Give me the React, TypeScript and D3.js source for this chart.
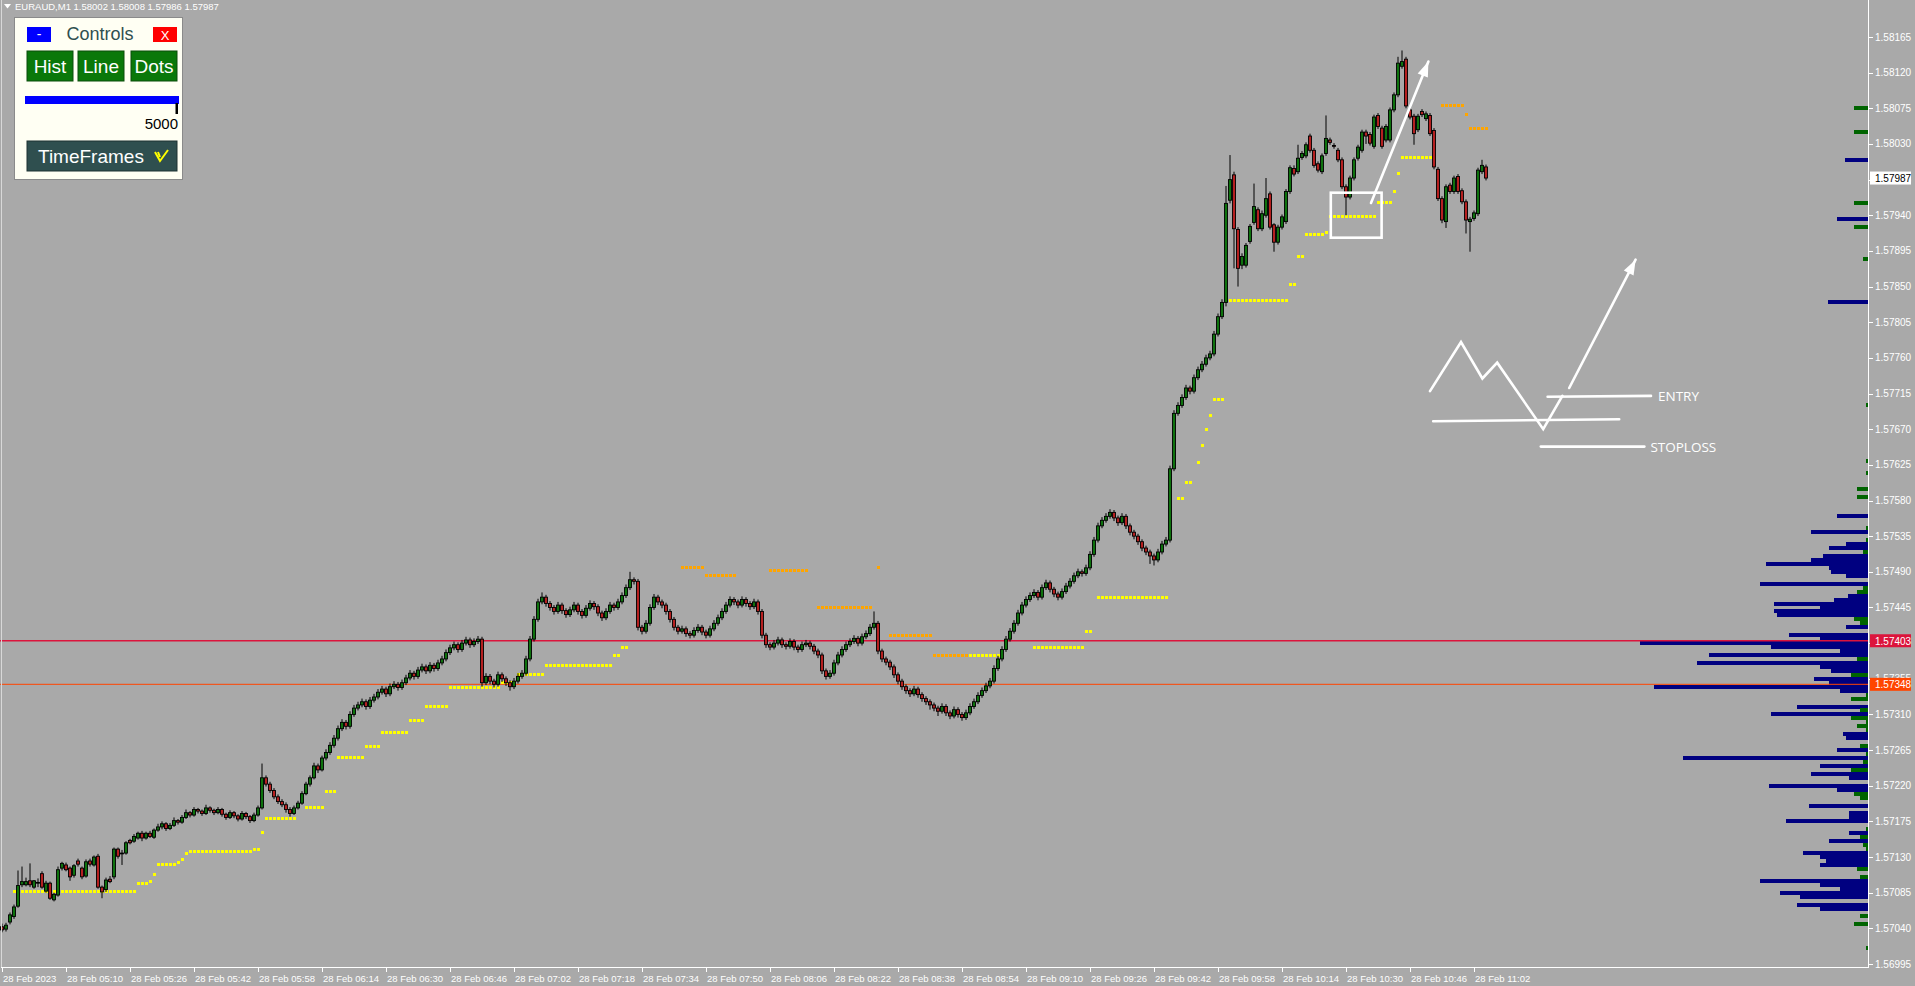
import React from "react";
import * as d3 from "d3";

const W = 1915;
const H = 986;
const AXIS_X = 1868.5;
const AXIS_Y = 967.5;
const BASE = 1.57;
const PT = 0.00001;

// prices in points above 1.57000
const opens = [
  42,39,48,55,68,95,95,100,92,98,
  109,87,97,76,82,116,120,116,107,125,
  116,106,125,120,131,92,89,102,105,140,
  135,135,151,150,154,160,154,160,155,164,
  168,172,166,170,176,174,180,186,183,190,
  188,185,192,189,186,190,184,180,186,182,
  178,185,181,176,183,192,230,222,214,206,
  200,196,190,185,192,198,210,222,230,245,
  240,255,262,271,280,292,300,295,310,318,
  322,326,320,328,332,338,342,336,345,348,
  344,350,356,362,358,366,370,365,372,368,
  375,380,388,394,398,392,400,404,398,402,
  405,350,358,352,348,360,355,350,345,352,
  358,362,380,405,430,452,458,450,445,440,
  448,441,436,442,448,440,435,444,450,446,
  438,432,440,448,445,452,460,470,480,478,
  420,415,425,445,458,452,448,440,430,420,
  415,418,412,410,416,420,414,410,418,425,
  432,440,448,455,452,448,455,450,446,452,
  440,410,398,395,400,404,398,396,402,395,
  392,398,400,396,390,385,365,358,362,375,
  385,392,398,402,406,400,408,412,420,425,
  390,380,376,370,360,352,345,340,336,342,
  335,330,326,322,318,314,320,312,308,316,
  310,306,312,320,326,334,340,346,352,368,
  380,392,405,415,425,438,448,455,460,464,
  458,470,476,468,462,458,465,472,478,485,
  490,488,495,512,530,548,555,560,565,558,
  552,560,548,540,535,528,520,515,510,505,
  515,525,530,620,690,700,710,722,718,735,
  745,752,760,765,790,812,830,959,991,922,
  877,877,907,931,947,923,940,967,928,906,
  925,932,970,999,995,1013,1015,1040,1022,1005,
  995,1018,1035,1028,1022,1010,976,963,987,1012,
  1022,1045,1042,1027,1066,1050,1035,1035,1073,1092,
  1128,1137,1073,1065,1048,1071,1062,1066,1047,998,
  961,932,978,970,989,971,957,932,936,942,
  995,1001
];
const highs = [
  46,47,60,70,113,118,104,122,101,103,
  112,100,99,85,118,124,123,118,121,128,
  118,127,128,132,134,94,104,106,142,142,
  139,150,153,159,162,163,162,163,166,172,
  175,174,173,180,178,183,190,188,193,192,
  190,196,194,191,193,192,186,189,188,184,
  188,187,183,186,195,248,233,225,217,209,
  203,199,193,195,201,213,225,233,249,248,
  258,266,275,284,296,304,303,314,322,326,
  330,329,332,336,342,346,345,349,352,351,
  354,360,366,365,370,374,373,376,375,379,
  384,392,398,402,401,404,408,407,406,409,
  408,362,361,355,364,363,358,353,356,362,
  366,384,409,434,456,464,461,453,448,452,
  451,444,446,452,451,443,448,454,453,449,
  441,444,452,451,456,464,474,490,483,481,
  423,429,449,462,461,455,451,443,433,423,
  422,421,415,420,424,423,417,422,429,436,
  444,452,459,458,455,459,458,453,456,455,
  443,413,401,404,408,407,401,406,405,398,
  402,404,403,399,393,388,368,366,379,389,
  396,402,406,410,409,412,416,424,440,428,
  393,383,379,373,363,355,348,343,346,345,
  338,333,329,325,321,324,323,315,320,319,
  313,316,324,330,338,344,350,356,372,384,
  396,409,419,429,442,452,459,464,468,467,
  474,480,479,471,465,469,476,482,489,494,
  493,499,516,534,552,559,564,569,568,561,
  564,563,551,543,538,531,523,518,513,519,
  529,534,624,694,704,714,726,725,739,749,
  756,764,769,794,816,834,977,1016,995,925,
  892,905,929,980,950,946,987,970,930,928,
  941,973,1003,1003,1029,1021,1032,1043,1025,1008,
  1018,1066,1038,1031,1025,1013,979,990,1013,1029,
  1048,1048,1045,1067,1069,1053,1055,1076,1095,1140,
  1148,1140,1076,1068,1068,1074,1071,1069,1050,1001,
  964,979,981,990,992,974,960,938,946,1000,
  1010,1004
];
const lows = [
  35,36,45,52,66,92,93,92,90,92,
  90,85,76,74,80,113,112,100,104,118,
  102,104,118,118,90,78,86,97,102,128,
  120,133,146,148,152,150,152,154,153,162,
  165,163,164,168,171,172,178,180,181,185,
  182,183,186,183,184,181,177,178,179,175,
  176,178,173,174,181,190,219,211,203,197,
  193,186,181,183,190,196,208,219,228,236,
  238,252,259,268,277,289,291,292,307,315,
  319,316,317,325,329,335,332,333,342,340,
  341,347,353,354,355,363,361,362,364,365,
  372,377,385,391,388,389,397,394,395,399,
  345,347,348,344,345,351,346,340,342,349,
  355,359,377,402,427,449,446,441,436,437,
  437,432,433,439,436,431,432,441,442,434,
  428,429,437,441,442,449,457,467,474,416,
  411,412,422,442,448,444,436,426,416,411,
  412,408,406,407,413,410,406,407,415,422,
  429,437,445,448,444,445,446,442,443,436,
  406,394,391,392,397,394,392,393,391,388,
  389,395,392,386,381,361,354,355,359,372,
  382,389,395,399,396,397,405,409,417,386,
  376,372,366,356,348,341,336,332,333,331,
  326,322,316,314,308,311,308,304,305,306,
  302,303,309,317,323,331,337,343,349,365,
  377,389,402,412,422,435,445,452,457,454,
  455,467,464,458,454,455,462,469,475,482,
  484,485,492,509,527,545,552,557,554,548,
  549,544,536,531,524,516,511,500,498,502,
  512,522,527,617,687,697,707,714,715,732,
  742,749,757,762,787,809,825,955,873,850,
  872,874,904,928,920,920,937,922,894,903,
  922,929,967,989,992,1010,1012,1019,1000,994,
  992,1015,1029,1024,1007,973,940,960,984,1009,
  1019,1030,1028,1024,1049,1024,1032,1032,1070,1089,
  1125,1075,1061,1029,1045,1064,1059,1040,998,958,
  930,924,967,967,967,954,917,894,933,939,
  992,984
];
const closes = [
  38,44,57,67,94,99,99,95,100,98,
  92,97,78,83,114,122,114,105,119,121,
  105,124,121,130,92,86,101,99,140,131,
  135,148,148,156,160,154,160,156,164,168,
  172,166,170,176,174,180,186,183,190,188,
  185,192,189,186,190,184,180,186,182,178,
  185,181,176,183,192,230,222,214,206,200,
  196,190,185,192,198,210,222,230,245,240,
  255,262,271,280,292,300,295,310,318,322,
  326,320,328,332,338,342,336,345,348,344,
  350,356,362,358,366,370,365,372,368,375,
  380,388,394,398,392,400,404,398,402,405,
  350,358,352,348,360,355,350,345,352,358,
  362,380,405,430,452,458,450,445,440,448,
  441,436,442,448,440,435,444,450,446,438,
  432,440,448,445,452,460,470,480,478,420,
  415,425,445,458,452,448,440,430,420,415,
  418,412,410,416,420,414,410,418,425,432,
  440,448,455,452,448,455,450,446,452,440,
  410,398,395,400,404,398,396,402,395,392,
  398,400,396,390,385,365,358,362,375,385,
  392,398,402,406,400,408,412,420,425,390,
  380,376,370,360,352,345,340,336,342,335,
  330,326,322,318,314,320,312,308,316,310,
  306,312,320,326,334,340,346,352,368,380,
  392,405,415,425,438,448,455,460,464,458,
  470,476,468,462,458,465,472,478,485,490,
  488,495,512,530,548,555,560,565,558,552,
  560,548,540,535,528,520,515,510,505,515,
  525,530,620,690,700,710,722,718,735,745,
  752,760,765,790,812,830,955,985,923,873,
  888,902,926,951,923,942,961,925,906,925,
  938,970,1000,992,1012,1018,1029,1022,1003,997,
  1015,1037,1032,1027,1010,976,963,987,1010,1026,
  1045,1040,1031,1064,1052,1027,1052,1073,1092,1132,
  1134,1078,1064,1043,1065,1067,1068,1043,1001,961,
  934,976,970,987,970,957,934,935,943,997,
  1003,987
];

// stepped indicator runs: [firstBar, lastBar, level]
const supportRuns = [
  [3,33,87],[34,36,97],[37,37,99],[38,38,108],[39,43,121],[44,44,123],[45,45,127],[46,46,135],
  [47,62,137],[63,64,140],[65,65,161],[66,73,179],[76,80,192],[81,83,213],[84,90,256],[91,94,270],
  [95,101,287],[102,105,302],[106,111,320],[112,124,344],[125,128,350],[129,135,360],[136,152,372],
  [153,154,385],[155,156,395],[242,250,384],[258,270,395],[271,272,415],[274,291,458],[292,292,533],
  [294,295,582],[296,297,603],[299,299,628],[300,300,650],[301,301,670],[302,302,687],[303,305,708],
  [306,321,832],[322,323,853],[324,325,888],[326,330,916],[331,331,918],[332,343,939],[344,347,956],
  [348,348,970],[349,349,993],[350,358,1013]
];
const resistanceRuns = [
  [170,175,495],[176,183,485],[192,201,492],[204,217,445],[219,219,496],[222,232,410],[233,241,384],
  [360,365,1078],[366,366,1067],[367,371,1049]
];

// volume profile (price level in points, volume, kind n=navy g=green)
const profileLevels = [
  1075,1045,1010,955,935,925,885,830,700,630,615,595,585,560,545,540,530,525,520,515,
  510,505,500,495,490,485,475,470,465,460,455,450,445,440,435,430,425,420,410,405,
  400,395,390,385,380,375,370,365,360,355,350,345,340,335,330,320,315,310,305,300,
  295,290,285,280,270,265,260,255,250,245,240,235,230,220,215,210,205,195,185,180,
  175,165,160,155,150,145,140,135,130,125,120,115,105,100,95,90,85,80,70,65,55,45,15
];
const profileVolumes = [
  14,14,23,14,31,14,5,40,2,2,2,11,11,31,2,57,2,22,39,5,
  45,57,102,39,37,22,108,5,11,20,34,94,48,94,91,14,8,22,79,48,
  228,97,28,159,11,171,48,37,17,54,39,214,28,2,17,71,8,97,17,2,
  11,2,25,22,8,31,2,185,5,48,17,57,19,99,31,14,8,59,19,19,
  82,2,19,8,39,5,2,65,48,42,48,11,8,108,48,28,88,68,71,48,8,14,2
];
const profileKinds = [
  "ggngnggngg", "gggngngnng", "nnnnnnnggn", "nnnnnggnnn", "nnnngnnngn",
  "nnnggngngg", "ggnngngngn", "gnnnnggnnn", "ngngnggnnn", "nggnnnnnnn", "ggg"
].join("");

const xTickLabels = [
  "28 Feb 2023","28 Feb 05:10","28 Feb 05:26","28 Feb 05:42","28 Feb 05:58","28 Feb 06:14",
  "28 Feb 06:30","28 Feb 06:46","28 Feb 07:02","28 Feb 07:18","28 Feb 07:34","28 Feb 07:50",
  "28 Feb 08:06","28 Feb 08:22","28 Feb 08:38","28 Feb 08:54","28 Feb 09:10","28 Feb 09:26",
  "28 Feb 09:42","28 Feb 09:58","28 Feb 10:14","28 Feb 10:30","28 Feb 10:46","28 Feb 11:02"
];
const xTickEvery = 16;
const yTickFirst = -5;
const yTickStep = 45;
const yTickCount = 27;

const redLevel = 403;
const orangeLevel = 348;
const lastLevel = 987;

// hand drawn annotations in (bar, points)
const zigzag = [[357,718],[364.75,780],[370.1,734],[373.8,754],[385.3,670],[390.1,712]];
const arrowUpSmall = [[391.8,722],[408.4,884]];
const arrowUpMain = [[342.25,955.5],[356.6,1134]];
const entryLine = [[386.4,711],[412.25,712]];
const baseLine = [[357.8,680],[404.3,682.5]];
const stopLine = [[384.7,648],[410.6,648]];
const boxBars = [332.2, 344.9];
const boxLevels = [968.5, 911.7];

const BULL = "#0E720E";
const BEAR = "#B52020";
const NAVY = "#000080";
const DGREEN = "#006400";

function arrowHead(x1: number, y1: number, x2: number, y2: number) {
  const a = Math.atan2(y2 - y1, x2 - x1);
  const L = 15, w = 5.5;
  const bx = x2 - L * Math.cos(a), by = y2 - L * Math.sin(a);
  const px = -Math.sin(a) * w, py = Math.cos(a) * w;
  return `M${x2},${y2}L${bx + px},${by + py}L${bx - px},${by - py}Z`;
}

export default function App() {
  const x = d3.scaleLinear().domain([0, 466]).range([2, 1866]);
  const y = d3.scaleLinear().domain([1165, -5]).range([37, 964]);
  const vol = d3.scaleLinear().domain([0, 228]).range([0, 228]);
  const fmt = (v: number) => (BASE + v * PT).toFixed(5);
  const line = d3.line<number[]>().x((d) => x(d[0])).y((d) => y(d[1]));

  const yTicks = d3.range(yTickCount).map((k) => yTickFirst + k * yTickStep);

  const dots = (runs: number[][], color: string, key: string) =>
    runs.flatMap((r) =>
      d3.range(r[0], r[1] + 1).map((i) => (
        <rect key={`${key}${i}`} x={x(i) - 1.5} y={y(r[2]) - 1.5} width={3} height={3} fill={color} />
      ))
    );

  const font = "'Liberation Sans', Arial, sans-serif";

  const priceLabel = (v: number, bg: string, fg: string) => (
    <g>
      <rect x={1870} y={y(v) - 6.5} width={41} height={13} fill={bg} />
      <text x={1875} y={y(v) + 4} fontSize={10} fill={fg} fontFamily={font}>{fmt(v)}</text>
    </g>
  );

  return (
    <svg width={W} height={H} style={{ position: "absolute", left: 0, top: 0, display: "block" }}>
      <rect x={0} y={0} width={W} height={H} fill="#A9A9A9" />

      {/* volume profile */}
      <g shapeRendering="crispEdges">
        {profileLevels.map((lv, k) => (
          <rect key={`p${k}`} x={AXIS_X - 1 - vol(profileVolumes[k])} y={y(lv) - 2} width={vol(profileVolumes[k])}
            height={4} fill={profileKinds[k] === "g" ? DGREEN : NAVY} />
        ))}
      </g>

      {/* horizontal levels */}
      <line x1={0} x2={AXIS_X} y1={y(redLevel)} y2={y(redLevel)} stroke="#DC143C" strokeWidth={1.6} />
      <line x1={0} x2={AXIS_X} y1={y(orangeLevel)} y2={y(orangeLevel)} stroke="#FF4500" strokeWidth={1} />

      {/* indicator dots */}
      <g shapeRendering="crispEdges">
        {dots(supportRuns, "#FFFF00", "s")}
        {dots(resistanceRuns, "#FFA500", "r")}
      </g>

      {/* candles */}
      <g>
        {closes.map((c, i) => {
          const o = opens[i];
          const cx = x(i);
          const top = y(Math.max(o, c));
          const bot = y(Math.min(o, c));
          return (
            <g key={`c${i}`}>
              <line x1={cx} x2={cx} y1={y(highs[i])} y2={y(lows[i])} stroke="#000" strokeWidth={1} />
              <rect x={cx - 1.5} y={top} width={3} height={Math.max(0.8, bot - top)}
                fill={c >= o ? BULL : BEAR} stroke="#000" strokeWidth={0.9} />
            </g>
          );
        })}
      </g>

      {/* annotations */}
      <g stroke="#FFFFFF" strokeWidth={2.6} fill="none" strokeLinecap="round" strokeLinejoin="miter">
        <rect x={x(boxBars[0])} y={y(boxLevels[0])} width={x(boxBars[1]) - x(boxBars[0])}
          height={y(boxLevels[1]) - y(boxLevels[0])} strokeLinecap="butt" />
        <path d={line(arrowUpMain as number[][]) || ""} />
        <path d={line(zigzag as number[][]) || ""} />
        <path d={line(arrowUpSmall as number[][]) || ""} />
        <path d={line(entryLine as number[][]) || ""} />
        <path d={line(baseLine as number[][]) || ""} />
        <path d={line(stopLine as number[][]) || ""} />
      </g>
      <path fill="#FFFFFF" d={arrowHead(x(arrowUpMain[0][0]), y(arrowUpMain[0][1]), x(arrowUpMain[1][0]), y(arrowUpMain[1][1]))} />
      <path fill="#FFFFFF" d={arrowHead(x(arrowUpSmall[0][0]), y(arrowUpSmall[0][1]), x(arrowUpSmall[1][0]), y(arrowUpSmall[1][1]))} />
      <text x={x(entryLine[1][0]) + 7} y={y(entryLine[1][1]) + 5} fill="#FFFFFF" fontSize={13.5}
        fontFamily="'Open Sans', sans-serif">ENTRY</text>
      <text x={x(stopLine[1][0]) + 6} y={y(stopLine[1][1]) + 5} fill="#FFFFFF" fontSize={13.5}
        fontFamily="'Open Sans', sans-serif">STOPLOSS</text>

      {/* axes */}
      <g shapeRendering="crispEdges" stroke="#FFFFFF">
        <line x1={1.5} x2={1.5} y1={0} y2={AXIS_Y} stroke="#D8D8D8" />
        <line x1={AXIS_X} x2={AXIS_X} y1={0} y2={AXIS_Y} />
        <line x1={1} x2={AXIS_X} y1={AXIS_Y} y2={AXIS_Y} />
        {yTicks.map((v) => (
          <line key={`yt${v}`} x1={AXIS_X} x2={AXIS_X + 4} y1={Math.round(y(v)) + 0.5} y2={Math.round(y(v)) + 0.5} />
        ))}
        {xTickLabels.map((_, k) => (
          <line key={`xt${k}`} x1={Math.round(x(k * xTickEvery)) + 0.5} x2={Math.round(x(k * xTickEvery)) + 0.5}
            y1={AXIS_Y} y2={AXIS_Y + 4} />
        ))}
      </g>
      <g fill="#FFFFFF" fontSize={10} fontFamily={font}>
        {yTicks.map((v) => (
          <text key={`yl${v}`} x={1875} y={y(v) + 3.5}>{fmt(v)}</text>
        ))}
        {xTickLabels.map((t, k) => (
          <text key={`xl${k}`} x={x(k * xTickEvery) + 1} y={982} fontSize={9.5}>{t}</text>
        ))}
      </g>
      {priceLabel(redLevel, "#DC143C", "#FFFFFF")}
      {priceLabel(orangeLevel, "#FF4500", "#FFFFFF")}
      {priceLabel(lastLevel, "#FFFFFF", "#000000")}

      {/* title */}
      <path d="M4,4 L11,4 L7.5,8.5 Z" fill="#FFFFFF" />
      <text x={15} y={10} fill="#FFFFFF" fontSize={9.5} fontFamily={font}>
        EURAUD,M1  1.58002 1.58008 1.57986 1.57987
      </text>

      {/* control panel */}
      <g fontFamily={font}>
        <rect x={14.5} y={17.5} width={168} height={162} fill="#FFFFF3" stroke="#8A8A8A" />
        <rect x={27} y={27} width={24} height={15} fill="#0000FF" />
        <text x={39} y={39} fill="#FFFFFF" fontSize={14} textAnchor="middle">-</text>
        <text x={100} y={40} fill="#2F4F4F" fontSize={18} textAnchor="middle">Controls</text>
        <rect x={153} y={27} width={24} height={15} fill="#FF0000" />
        <text x={165} y={40} fill="#FFFFFF" fontSize={13} textAnchor="middle">X</text>
        {[["Hist", 27, 46], ["Line", 78, 46], ["Dots", 131, 46]].map(([t, bx, bw]) => (
          <g key={t as string}>
            <rect x={bx as number} y={51} width={bw as number} height={30} fill="#0A780A" stroke="#0B4D0B" strokeWidth={1} />
            <text x={(bx as number) + (bw as number) / 2} y={72.5} fill="#FFFFFF" fontSize={19} textAnchor="middle">{t}</text>
          </g>
        ))}
        <rect x={25} y={96} width={154} height={8} fill="#0000FF" />
        <rect x={175.5} y={103} width={2.5} height={11} fill="#000000" />
        <text x={178} y={129} fill="#000000" fontSize={15} textAnchor="end">5000</text>
        <rect x={27} y={141} width={150} height={30} fill="#2F4F4F" stroke="#1E3232" />
        <text x={38} y={162.5} fill="#FFFFFF" fontSize={19}>TimeFrames</text>
        <path d="M155,152 L160,161 L168,150 M158,152 L160,157" stroke="#FFFF00" strokeWidth={2} fill="none" />
      </g>
    </svg>
  );
}
